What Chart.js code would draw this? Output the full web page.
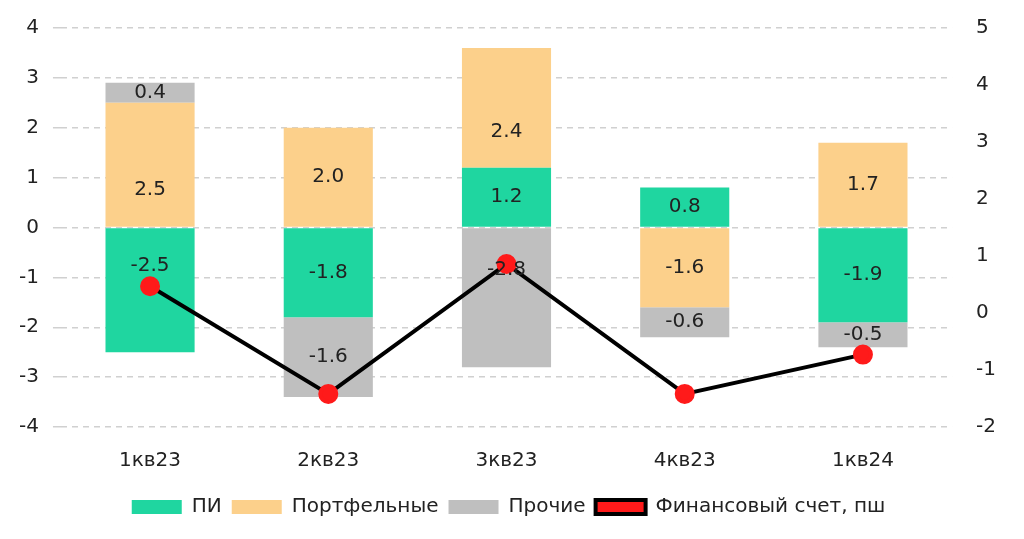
<!DOCTYPE html>
<html><head><meta charset="utf-8">
<script src="https://cdn.jsdelivr.net/npm/chart.js@4"></script>
<style>body{margin:0;background:#fff}#w{width:1024px;height:539px}</style>
</head><body><div id="w"><canvas id="c"></canvas></div>
<script>
const labels = ['1кв23','2кв23','3кв23','4кв23','1кв24'];
const fdi = [-2.5, -1.8, 1.2, 0.8, -1.9];
const portfolio = [2.5, 2.0, 2.4, -1.6, 1.7];
const other = [0.4, -1.6, -2.8, -0.6, -0.5];
const finAccount = [0.47, -1.42, 0.86, -1.42, -0.73];

// writes the value in the middle of each bar
const barLabels = {
  id: 'barLabels',
  afterDatasetsDraw(chart) {
    const ctx = chart.ctx;
    ctx.save();
    ctx.font = '20px "DejaVu Sans"';
    ctx.fillStyle = '#222';
    ctx.textAlign = 'center';
    ctx.textBaseline = 'middle';
    chart.data.datasets.forEach((ds, i) => {
      if (ds.type === 'line') return;
      chart.getDatasetMeta(i).data.forEach((bar, j) => {
        let y = (bar.y + bar.base) / 2;
        if (Math.abs(bar.y - bar.base) > 100) y = bar.base + (bar.y - bar.base) * 0.3;
        ctx.fillText(ds.data[j].toFixed(1), bar.x, y);
      });
    });
    ctx.restore();
  }
};

new Chart(document.getElementById('c'), {
  data: {
    labels,
    datasets: [
      { type: 'line', label: 'Финансовый счет, пш', data: finAccount, yAxisID: 'y2',
        borderColor: '#000', borderWidth: 4, pointBackgroundColor: '#ff1a1a',
        pointBorderColor: '#ff1a1a', pointRadius: 8, order: 0 },
      { type: 'bar', label: 'ПИ', data: fdi, backgroundColor: '#1fd6a0', stack: 's', order: 1 },
      { type: 'bar', label: 'Портфельные', data: portfolio, backgroundColor: '#fcd08b', stack: 's', order: 1 },
      { type: 'bar', label: 'Прочие', data: other, backgroundColor: '#bfbfbf', stack: 's', order: 1 }
    ]
  },
  plugins: [barLabels],
  options: {
    maintainAspectRatio: false,
    animation: false,
    layout: { padding: { left: 5, right: 12, top: 15, bottom: 12 } },
    datasets: { bar: { categoryPercentage: 0.5, barPercentage: 1 } },
    plugins: {
      legend: {
        position: 'bottom',
        labels: {
          font: { size: 20, family: 'DejaVu Sans' }, color: '#222', boxWidth: 50, boxHeight: 14,
          sort: (a, b) => (a.datasetIndex || 9) - (b.datasetIndex || 9),
          generateLabels(chart) {
            return chart.data.datasets.map((ds, i) => ({
              text: ds.label, datasetIndex: i,
              fillStyle: ds.type === 'line' ? '#ff1a1a' : ds.backgroundColor,
              strokeStyle: ds.type === 'line' ? '#000' : ds.backgroundColor,
              lineWidth: ds.type === 'line' ? 4 : 0,
              fontColor: '#222'
            }));
          }
        }
      },
      tooltip: { enabled: false }
    },
    scales: {
      x: { stacked: true, grid: { display: false }, border: { display: false },
        ticks: { padding: 14, font: { size: 20, family: 'DejaVu Sans' }, color: '#222' } },
      y: { stacked: true, min: -4, max: 4, ticks: { padding: 14, stepSize: 1, font: { size: 20, family: 'DejaVu Sans' }, color: '#222' },
        grid: { color: '#d0d0d0', lineWidth: 1.5 }, border: { display: false, dash: [6, 5] } },
      y2: { position: 'right', min: -2, max: 5, ticks: { padding: 16, stepSize: 1, font: { size: 20, family: 'DejaVu Sans' }, color: '#222' },
        grid: { display: false }, border: { display: false } }
    }
  }
});
</script></body></html>
